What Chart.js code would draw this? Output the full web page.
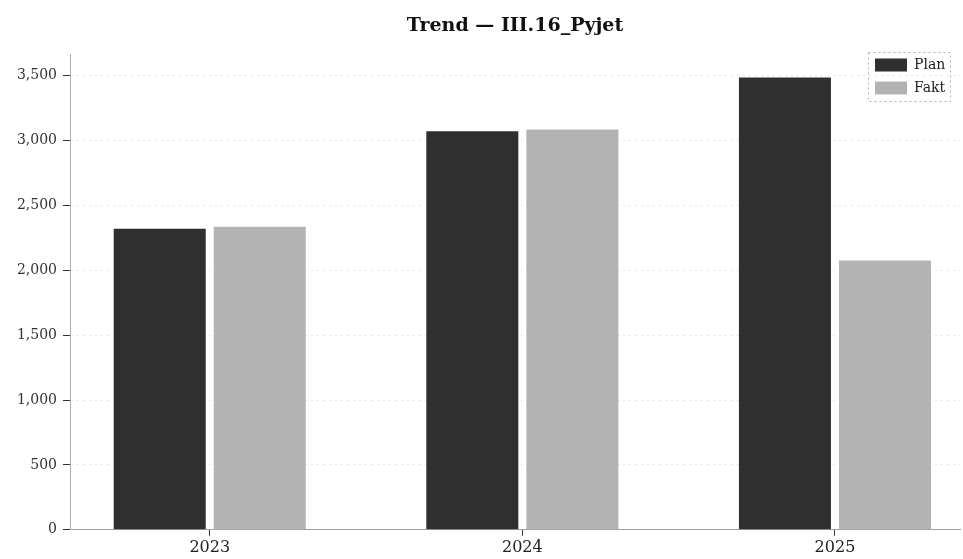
<!DOCTYPE html>
<html>
<head>
<meta charset="utf-8">
<script src="https://cdn.jsdelivr.net/npm/chart.js@4/dist/chart.umd.min.js"></script>
<style>
  html, body { margin: 0; padding: 0; background: #ffffff; }
  #wrap { width: 963px; height: 559px; }
</style>
</head>
<body>
<div id="wrap"><canvas id="c" width="963" height="559"></canvas></div>
<script>
// ---- data ----
const categories = ['2023', '2024', '2025'];
const planValues = [2320, 3070, 3485];
const faktValues = [2335, 3085, 2075];
const yTickValues = [0, 500, 1000, 1500, 2000, 2500, 3000, 3500];
const seriesNames = ['Plan', 'Fakt'];
const titleText = 'Trend \u2014 III.16_Pyjet';

const FONT = "'DejaVu Serif', 'Liberation Serif', serif";

const legendPlacer = {
  id: 'legendPlacer',
  afterLayout(chart) {
    const lg = chart.legend;
    if (!lg) return;
    const w = lg.width, h = 60;
    lg.left = 866; lg.right = lg.left + w; lg.width = w;
    lg.top = 49; lg.bottom = lg.top + h; lg.height = h;
  },
  afterDraw(chart) {
    const lg = chart.legend;
    if (!lg || !lg.legendHitBoxes || !lg.legendHitBoxes.length) return;
    const hb = lg.legendHitBoxes;
    let x0 = Infinity, y0 = Infinity, x1 = -Infinity, y1 = -Infinity;
    hb.forEach(b => {
      x0 = Math.min(x0, b.left); y0 = Math.min(y0, b.top);
      x1 = Math.max(x1, b.left + b.width); y1 = Math.max(y1, b.top + b.height);
    });
    const ctx = chart.ctx;
    ctx.save();
    ctx.strokeStyle = '#b0b0b0';
    ctx.lineWidth = 1;
    ctx.setLineDash([2, 3]);
    ctx.strokeRect(Math.round(x0 - 7) + 0.5, Math.round(y0 - 6) + 0.5, Math.round(x1 - x0 + 12), Math.round(y1 - y0 + 12));
    ctx.restore();
  }
};

const ctx = document.getElementById('c').getContext('2d');
new Chart(ctx, {
  type: 'bar',
  data: {
    datasets: [
      {
        label: seriesNames[0],
        data: categories.map((c, i) => ({ x: i, y: planValues[i] })),
        backgroundColor: '#2f2f2f',
        borderWidth: 0
      },
      {
        label: seriesNames[1],
        data: categories.map((c, i) => ({ x: i, y: faktValues[i] })),
        backgroundColor: '#b3b3b3',
        borderWidth: 0
      }
    ]
  },
  options: {
    responsive: false,
    animation: false,
    devicePixelRatio: 1,
    categoryPercentage: 0.64,
    barPercentage: 0.92,
    layout: { padding: { left: 6, right: 3, top: 0, bottom: 0 } },
    plugins: {
      title: {
        display: true,
        text: titleText,
        fullSize: false,
        color: '#111',
        font: { family: FONT, size: 19, weight: 'bold' },
        padding: { top: 15, bottom: 17 }
      },
      legend: {
        display: true,
        position: 'chartArea',
        align: 'start',
        labels: {
          color: '#222',
          font: { family: FONT, size: 14 },
          boxWidth: 32,
          boxHeight: 13,
          padding: 9
        }
      },
      tooltip: { enabled: false }
    },
    scales: {
      x: {
        type: 'linear',
        min: -0.447,
        max: 2.4,
        offset: false,
        afterBuildTicks: s => { s.ticks = s.ticks.filter(t => Number.isInteger(t.value) && t.value >= 0 && t.value < categories.length); },
        ticks: {
          stepSize: 1,
          autoSkip: false,
          maxRotation: 0,
          color: '#222',
          padding: 2,
          font: { family: FONT, size: 16 },
          callback: v => categories[v] !== undefined ? categories[v] : ''
        },
        grid: {
          display: true,
          drawOnChartArea: false,
          drawTicks: true,
          tickLength: 6,
          offset: false,
          tickColor: '#333',
          color: '#333'
        },
        border: { display: true, color: '#a0a0a0', width: 1 }
      },
      y: {
        min: 0,
        max: 3660,
        afterBuildTicks: s => { s.ticks = yTickValues.map(v => ({ value: v })); },
        afterFit: s => { s.width = 64; },
        ticks: {
          stepSize: 500,
          color: '#333',
          padding: 6,
          font: { family: FONT, size: 14 },
          callback: v => Number(v).toLocaleString('en-US')
        },
        grid: {
          display: true,
          drawOnChartArea: true,
          drawTicks: true,
          tickLength: 7,
          color: '#e6e6e6',
          tickColor: '#333',
          tickBorderDash: []
        },
        border: { display: true, color: '#b0b0b0', width: 1, dash: [2, 4] }
      }
    }
  },
  plugins: [legendPlacer]
});
</script>
</body>
</html>
